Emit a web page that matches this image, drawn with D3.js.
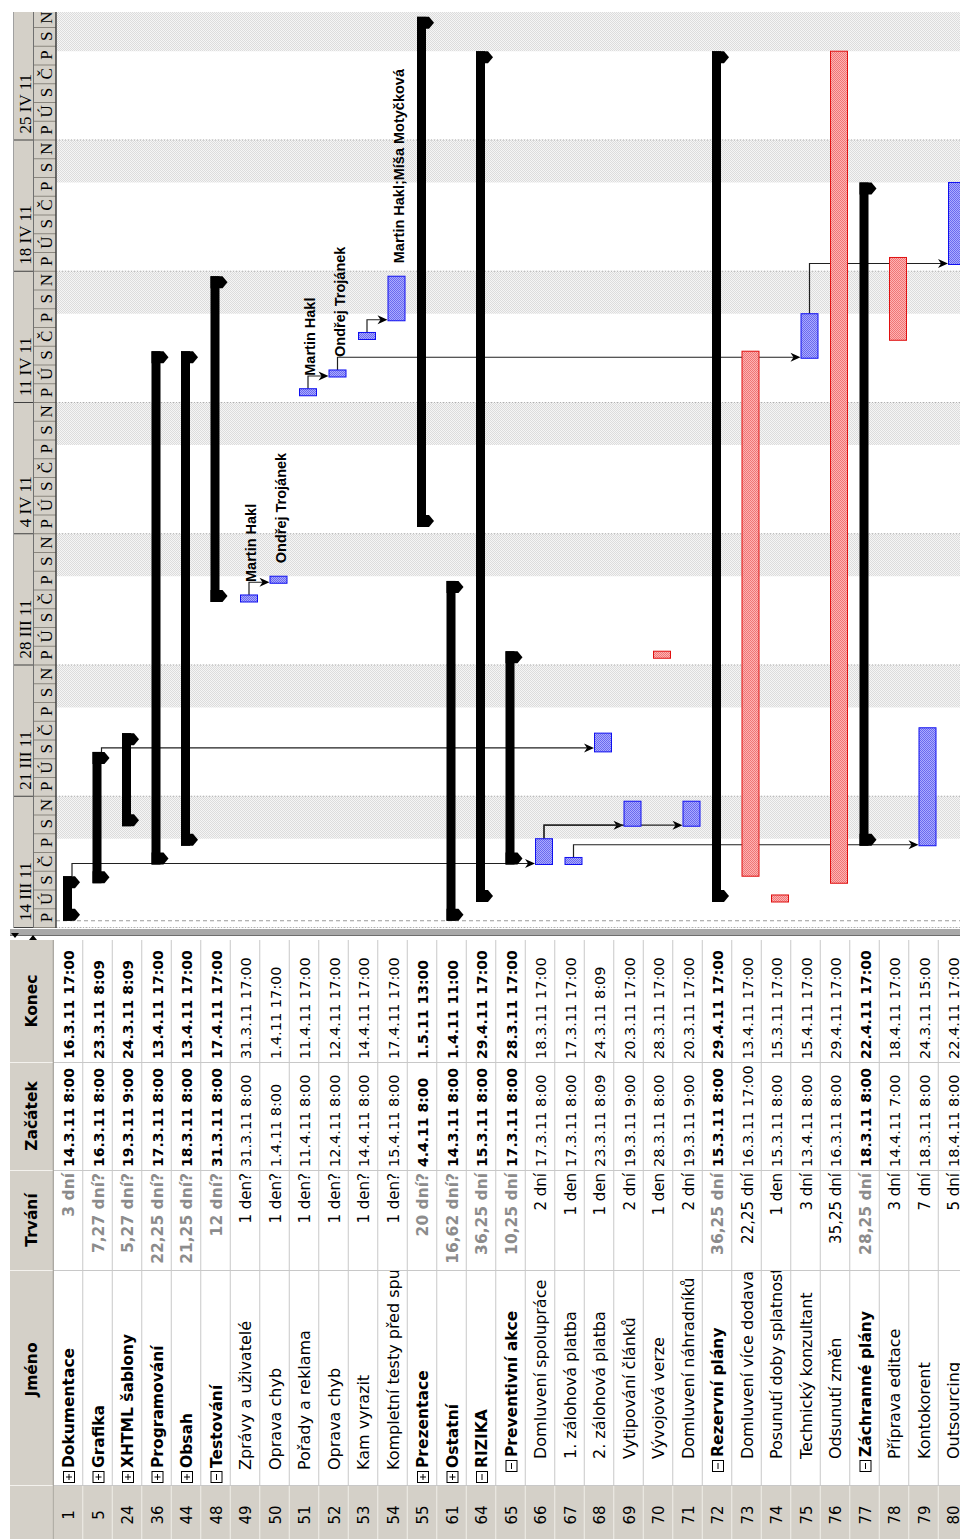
<!DOCTYPE html>
<html>
<head>
<meta charset="utf-8">
<script src="https://cdn.jsdelivr.net/npm/d3@7"></script>
<style>
  body { margin: 0; background: #fff; }
  svg { display: block; }
</style>
</head>
<body>
<svg width="960" height="1539"></svg>
<script>
// --- data ---
const ids = [1, 5, 24, 36, 44, 48, 49, 50, 51, 52, 53, 54, 55, 61, 64, 65, 66, 67, 68, 69, 70, 71, 72, 73, 74, 75, 76, 77, 78, 79, 80];
const names = ['Dokumentace', 'Grafika', 'XHTML šablony', 'Programování', 'Obsah', 'Testování',
    'Zprávy a uživatelé', 'Oprava chyb', 'Pořady a reklama', 'Oprava chyb', 'Kam vyrazit',
    'Kompletní testy před spuštěním', 'Prezentace', 'Ostatní', 'RIZIKA', 'Preventivní akce',
    'Domluvení spolupráce', '1. zálohová platba', '2. zálohová platba', 'Vytipování článků',
    'Vývojová verze', 'Domluvení náhradníků', 'Rezervní plány', 'Domluvení více dodavatelů',
    'Posunutí doby splatnosti', 'Technický konzultant', 'Odsunutí změn', 'Záchranné plány',
    'Příprava editace', 'Kontokorent', 'Outsourcing'];
// S = collapsed summary, O = expanded summary, T = task, C = critical task
const kinds = ['S', 'S', 'S', 'S', 'S', 'O', 'T', 'T', 'T', 'T', 'T', 'T', 'S', 'S', 'O', 'O',
    'T', 'T', 'T', 'T', 'C', 'T', 'O', 'C', 'C', 'T', 'C', 'O', 'C', 'T', 'T'];
const levels = [1, 1, 1, 1, 1, 1, 2, 2, 2, 2, 2, 2, 1, 1, 1, 2, 3, 3, 3, 3, 3, 3, 2, 3, 3, 3, 3, 2, 3, 3, 3];
const durations = ['3 dní', '7,27 dní?', '5,27 dní?', '22,25 dní?', '21,25 dní?', '12 dní?',
    '1 den?', '1 den?', '1 den?', '1 den?', '1 den?', '1 den?', '20 dní?', '16,62 dní?',
    '36,25 dní', '10,25 dní', '2 dní', '1 den', '1 den', '2 dní', '1 den', '2 dní', '36,25 dní',
    '22,25 dní', '1 den', '3 dní', '35,25 dní', '28,25 dní', '3 dní', '7 dní', '5 dní'];
const starts = ['14.3.11 8:00', '16.3.11 8:00', '19.3.11 9:00', '17.3.11 8:00', '18.3.11 8:00',
    '31.3.11 8:00', '31.3.11 8:00', '1.4.11 8:00', '11.4.11 8:00', '12.4.11 8:00', '14.4.11 8:00',
    '15.4.11 8:00', '4.4.11 8:00', '14.3.11 8:00', '15.3.11 8:00', '17.3.11 8:00', '17.3.11 8:00',
    '17.3.11 8:00', '23.3.11 8:09', '19.3.11 9:00', '28.3.11 8:00', '19.3.11 9:00', '15.3.11 8:00',
    '16.3.11 17:00', '15.3.11 8:00', '13.4.11 8:00', '16.3.11 8:00', '18.3.11 8:00', '14.4.11 7:00',
    '18.3.11 8:00', '18.4.11 8:00'];
const ends = ['16.3.11 17:00', '23.3.11 8:09', '24.3.11 8:09', '13.4.11 17:00', '13.4.11 17:00',
    '17.4.11 17:00', '31.3.11 17:00', '1.4.11 17:00', '11.4.11 17:00', '12.4.11 17:00',
    '14.4.11 17:00', '17.4.11 17:00', '1.5.11 13:00', '1.4.11 11:00', '29.4.11 17:00',
    '28.3.11 17:00', '18.3.11 17:00', '17.3.11 17:00', '24.3.11 8:09', '20.3.11 17:00',
    '28.3.11 17:00', '20.3.11 17:00', '29.4.11 17:00', '13.4.11 17:00', '15.3.11 17:00',
    '15.4.11 17:00', '29.4.11 17:00', '22.4.11 17:00', '18.4.11 17:00', '24.3.11 15:00',
    '22.4.11 17:00'];
const linkFrom = [1, 5, 66, 66, 67, 49, 51, 52, 53, 75];
const linkTo = [66, 68, 69, 71, 79, 50, 52, 75, 54, 80];
const resourceIds = [49, 50, 51, 52, 54];
const resourceNames = ['Martin Hakl', 'Ondřej Trojánek', 'Martin Hakl', 'Ondřej Trojánek', 'Martin Hakl;Míša Motyčková'];
const weekLabels = ['14 III 11', '21 III 11', '28 III 11', '4 IV 11', '11 IV 11', '18 IV 11', '25 IV 11'];
const dayLetters = ['P', 'Ú', 'S', 'Č', 'P', 'S', 'N'];
const columnTitles = ['Konec', 'Začátek', 'Trvání', 'Jméno'];

function parseDT(s) {
    const [d, t] = s.split(' ');
    const [dd, mm, yy] = d.split('.').map(Number);
    const [hh, mi] = t.split(':').map(Number);
    return new Date(Date.UTC(2000 + yy, mm - 1, dd, hh, mi));
}

const rows = ids.map((id, i) => ({
    id: id, name: names[i], kind: kinds[i], level: levels[i], dur: durations[i],
    startText: starts[i], endText: ends[i],
    start: parseDT(starts[i]), end: parseDT(ends[i]),
    summary: kinds[i] === 'S' || kinds[i] === 'O'
}));
const byId = new Map(rows.map(r => [r.id, r]));

// --- layout ---
const CHART_TOP = 12, CHART_BOTTOM = 928, CHART_LEFT = 56;
const DAY = 18.75, Y0 = 927;
const d0 = new Date(Date.UTC(2011, 2, 14));
const d1 = new Date(Date.UTC(2011, 4, 2));
const y = d3.scaleUtc().domain([d0, d1]).range([Y0, Y0 - 49 * DAY]);
const x = d3.scaleBand().domain(ids).range([53.25, 53.25 + 29.5 * ids.length]);
const cx = id => x(id) + x.bandwidth() / 2;

// table columns (along y)
const T_TOP = 940, T_BOTTOM = 1539;
const colBounds = [T_TOP, 1062, 1170, 1270, 1485, T_BOTTOM];

const svg = d3.select('svg');
const defs = svg.append('defs');

function checker(id, a, b) {
    const p = defs.append('pattern').attr('id', id).attr('width', 2).attr('height', 2)
        .attr('patternUnits', 'userSpaceOnUse');
    p.append('rect').attr('width', 2).attr('height', 2).attr('fill', a);
    p.append('rect').attr('width', 1).attr('height', 1).attr('fill', b);
    p.append('rect').attr('x', 1).attr('y', 1).attr('width', 1).attr('height', 1).attr('fill', b);
}
checker('blueFill', '#aaaaff', '#6a6aee');
checker('redFill', '#ffb2b2', '#ee7676');
checker('weekend', '#f5f5f5', '#dcdcdc');

defs.append('clipPath').attr('id', 'chartClip').append('rect')
    .attr('x', CHART_LEFT).attr('y', CHART_TOP).attr('width', 960 - CHART_LEFT).attr('height', CHART_BOTTOM - CHART_TOP);
defs.append('clipPath').attr('id', 'scaleClip').append('rect')
    .attr('x', 0).attr('y', CHART_TOP).attr('width', 60).attr('height', CHART_BOTTOM - CHART_TOP);
defs.append('clipPath').attr('id', 'nameClip').append('rect')
    .attr('x', 0).attr('y', colBounds[3] + 1).attr('width', 960).attr('height', colBounds[4] - colBounds[3] - 1);

function rtext(g, xx, yy, txt, anchor) {
    return g.append('text')
        .attr('transform', `translate(${xx},${yy}) rotate(-90)`)
        .attr('text-anchor', anchor || 'start')
        .text(txt);
}

// --- chart area ---
const chart = svg.append('g').attr('clip-path', 'url(#chartClip)');

const saturdays = d3.utcSaturday.range(d3.utcDay.offset(d0, -7), d1);
chart.append('g').selectAll('rect').data(saturdays).enter().append('rect')
    .attr('x', CHART_LEFT).attr('width', 960 - CHART_LEFT)
    .attr('y', d => y(d3.utcDay.offset(d, 2)))
    .attr('height', d => y(d3.utcHour.offset(d, -7)) - y(d3.utcDay.offset(d, 2)))
    .attr('fill', 'url(#weekend)');

const mondays = d3.utcMonday.range(d0, d1);
chart.append('g').selectAll('line').data(mondays).enter().append('line')
    .attr('x1', CHART_LEFT).attr('x2', 960)
    .attr('y1', d => y(d) + 0.5).attr('y2', d => y(d) + 0.5)
    .attr('stroke', '#b0b0b0').attr('stroke-dasharray', '1,2');

// project start line
const pStart = rows[0].start;
chart.append('line').attr('x1', CHART_LEFT).attr('x2', 960)
    .attr('y1', y(pStart)).attr('y2', y(pStart))
    .attr('stroke', '#9a9a9a').attr('stroke-dasharray', '4,3');

// links
const links = linkFrom.map((f, i) => ({ a: byId.get(f), b: byId.get(linkTo[i]) }));
const linkG = chart.append('g');
links.forEach(l => {
    const xs = cx(l.a.id) + 4;
    const y1 = y(l.a.end);
    const yl = Math.min(y1 - 4, y(l.b.start) - 1);
    const xt = cx(l.b.id) - 5;
    linkG.append('path')
        .attr('d', `M${xs},${y1} V${yl} H${xt - 6}`)
        .attr('fill', 'none').attr('stroke', '#202020').attr('stroke-width', 1.2);
    linkG.append('path')
        .attr('d', `M${xt},${yl} L${xt - 10},${yl - 4.5} L${xt - 7},${yl} L${xt - 10},${yl + 4.5} Z`)
        .attr('fill', '#000');
});

// task bars
const tasks = rows.filter(r => !r.summary);
chart.append('g').selectAll('rect').data(tasks).enter().append('rect')
    .attr('x', d => cx(d.id) - 5 + 0.5)
    .attr('width', 17)
    .attr('y', d => y(d.end))
    .attr('height', d => y(d.start) - y(d.end))
    .attr('fill', d => d.kind === 'C' ? 'url(#redFill)' : 'url(#blueFill)')
    .attr('stroke', d => d.kind === 'C' ? '#e01010' : '#1010f0')
    .attr('stroke-width', 1);

// summary bars with end caps
const sums = rows.filter(r => r.summary);
const sg = chart.append('g');
sums.forEach(r => {
    const c = cx(r.id);
    const ys = y(r.start), ye = y(r.end);
    sg.append('rect').attr('x', c - 5).attr('width', 9).attr('y', ye).attr('height', ys - ye).attr('fill', '#000');
    const cap = (y0, d) => [[c - 5, y0], [c + 7, y0], [c + 12, y0 + d * 6], [c + 7, y0 + d * 12], [c - 5, y0 + d * 12]];
    [cap(ye, 1), cap(ys, -1)].forEach(pts => {
        sg.append('polygon').attr('points', pts.map(p => p.join(',')).join(' ')).attr('fill', '#000');
    });
});

// resource labels
const labG = chart.append('g')
    .attr('font-family', '"Liberation Sans", Arial, sans-serif')
    .attr('font-weight', 'bold').attr('font-size', 14.5).attr('fill', '#000');
resourceIds.forEach((id, i) => {
    const r = byId.get(id);
    rtext(labG, cx(id) + 11, y(r.end) - 13, resourceNames[i]);
});

// --- timescale header ---
const ts = svg.append('g').attr('clip-path', 'url(#scaleClip)');
ts.append('rect').attr('x', 13).attr('y', CHART_TOP).attr('width', 43).attr('height', CHART_BOTTOM - CHART_TOP)
    .attr('fill', '#d4d0c8');
const days = d3.utcDay.range(d0, d1);
ts.append('g').selectAll('line').data(days).enter().append('line')
    .attr('x1', 34).attr('x2', 56).attr('y1', d => y(d) + 0.5).attr('y2', d => y(d) + 0.5)
    .attr('stroke', '#8a867e');
ts.append('g').selectAll('line').data(mondays).enter().append('line')
    .attr('x1', 13).attr('x2', 34).attr('y1', d => y(d) + 0.5).attr('y2', d => y(d) + 0.5)
    .attr('stroke', '#404040');
const tsText = ts.append('g').attr('font-family', '"Liberation Serif", "Times New Roman", serif')
    .attr('font-size', 17).attr('fill', '#000');
mondays.forEach((m, i) => rtext(tsText, 31, y(m) - 6, weekLabels[i]));
days.forEach((d, i) => rtext(tsText, 52, y(d3.utcHour.offset(d, 12)), dayLetters[i % 7], 'middle'));
ts.append('line').attr('x1', 33.5).attr('x2', 33.5).attr('y1', CHART_TOP).attr('y2', CHART_BOTTOM).attr('stroke', '#707070');
ts.append('line').attr('x1', 56).attr('x2', 56).attr('y1', CHART_TOP).attr('y2', CHART_BOTTOM).attr('stroke', '#404040').attr('stroke-width', 1.5);
ts.append('line').attr('x1', 13.5).attr('x2', 13.5).attr('y1', CHART_TOP).attr('y2', CHART_BOTTOM).attr('stroke', '#a0a0a0');

// --- divider between chart and table ---
svg.append('rect').attr('x', 10).attr('y', 929).attr('width', 950).attr('height', 6).attr('fill', '#a9a9a9');
svg.append('line').attr('x1', 10).attr('x2', 960).attr('y1', 935.5).attr('y2', 935.5).attr('stroke', '#6e6e6e');
svg.append('path').attr('d', 'M11,933 L19,933 L15,938 Z M29,940 L37,940 L33,935 Z').attr('fill', '#000');

// --- table ---
const tbl = svg.append('g');
tbl.append('rect').attr('x', 10).attr('y', T_TOP).attr('width', 43.25).attr('height', T_BOTTOM - T_TOP).attr('fill', '#d4d0c8');
tbl.append('rect').attr('x', 53.25).attr('y', colBounds[4]).attr('width', 960 - 53.25).attr('height', T_BOTTOM - colBounds[4]).attr('fill', '#d4d0c8');

// grid
const rowEdges = d3.range(ids.length + 1).map(k => 53.25 + 29.5 * k);
tbl.append('g').selectAll('line').data(rowEdges).enter().append('line')
    .attr('x1', d => d).attr('x2', d => d).attr('y1', T_TOP).attr('y2', colBounds[4])
    .attr('stroke', '#c8c8c8');
tbl.append('g').selectAll('line').data(rowEdges).enter().append('line')
    .attr('x1', d => d).attr('x2', d => d).attr('y1', colBounds[4]).attr('y2', T_BOTTOM)
    .attr('stroke', '#f0eee8');
tbl.append('g').selectAll('line').data(colBounds.slice(1, 5)).enter().append('line')
    .attr('x1', 53.25).attr('x2', 960).attr('y1', d => d + 0.5).attr('y2', d => d + 0.5)
    .attr('stroke', '#c8c8c8');
tbl.append('g').selectAll('line').data(colBounds.slice(1, 5)).enter().append('line')
    .attr('x1', 10).attr('x2', 53).attr('y1', d => d + 0.5).attr('y2', d => d + 0.5)
    .attr('stroke', '#f4f2ee');
tbl.append('line').attr('x1', 53.25).attr('x2', 53.25).attr('y1', T_TOP).attr('y2', T_BOTTOM).attr('stroke', '#a09c94');

const FONT = '"DejaVu Sans", Verdana, sans-serif';
const head = tbl.append('g').attr('font-family', FONT).attr('font-weight', 'bold').attr('font-size', 15.5).attr('fill', '#000');
columnTitles.forEach((t, i) => rtext(head, 37, (colBounds[i] + colBounds[i + 1]) / 2 - (i === 3 ? 8 : 0), t, 'middle'));

const cells = tbl.append('g').attr('font-family', FONT).attr('font-size', 16).attr('fill', '#000');
const nameG = tbl.append('g').attr('font-family', FONT).attr('font-size', 16).attr('fill', '#000')
    .attr('clip-path', 'url(#nameClip)');

rows.forEach(r => {
    const c = cx(r.id);
    const bx = c + 6;
    // ID
    rtext(cells, bx, 1515, String(r.id), 'middle').attr('font-size', 15);
    // name
    const base = 1483 - (r.level - 1) * 11;
    if (r.summary) {
        const bxx = c - 4.5;
        nameG.append('rect').attr('x', bxx).attr('y', base - 11.5).attr('width', 11).attr('height', 11)
            .attr('fill', '#fff').attr('stroke', '#000');
        nameG.append('line').attr('x1', bxx + 5.5).attr('x2', bxx + 5.5).attr('y1', base - 9).attr('y2', base - 3)
            .attr('stroke', '#000');
        if (r.kind === 'S') {
            nameG.append('line').attr('x1', bxx + 2.5).attr('x2', bxx + 8.5).attr('y1', base - 6).attr('y2', base - 6)
                .attr('stroke', '#000');
        }
        rtext(nameG, bx, base - 15, r.name).attr('font-weight', 'bold').attr('font-size', 15.5);
    } else {
        rtext(nameG, bx, base - 2, r.name);
    }
    // duration
    rtext(cells, bx, colBounds[2] + 3, r.dur, 'end')
        .attr('fill', r.summary ? '#8c8c8c' : '#000')
        .attr('font-weight', r.summary ? 'bold' : 'normal')
        .attr('font-size', r.summary ? 15.5 : 15);
    // start / end
    rtext(cells, bx, colBounds[2] - 3, r.startText)
        .attr('font-weight', r.summary ? 'bold' : 'normal').attr('font-size', r.summary ? 14 : 14.5);
    rtext(cells, bx, colBounds[1] - 3, r.endText)
        .attr('font-weight', r.summary ? 'bold' : 'normal').attr('font-size', r.summary ? 14 : 14.5);
});
</script>
</body>
</html>
